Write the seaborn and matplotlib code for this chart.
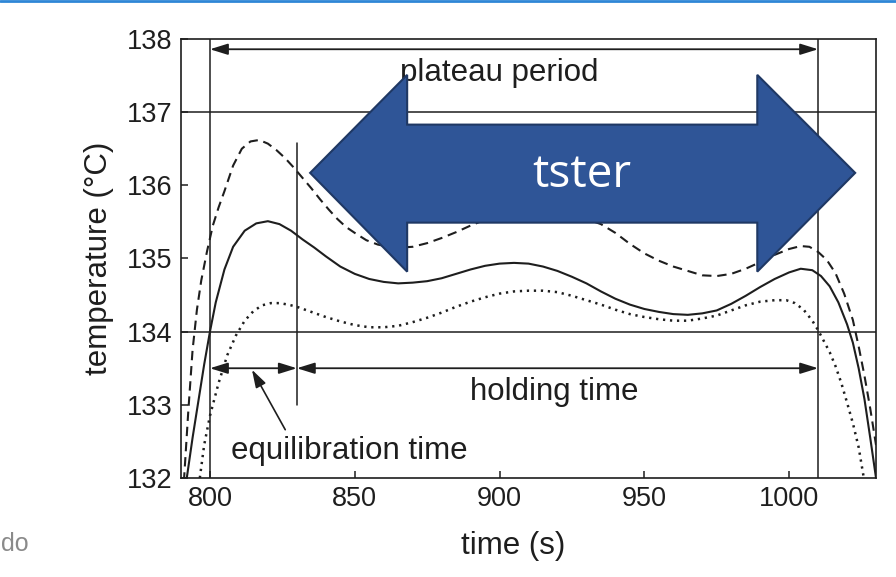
import matplotlib
matplotlib.use("Agg")
import matplotlib.pyplot as plt
from matplotlib.patches import Polygon
from matplotlib.lines import Line2D
import seaborn as sns

# --- temperature curves (time in s, temperature in °C) ---
solid_t = [792, 794, 796, 798, 800, 802, 805, 808, 812, 816, 820, 824, 828, 832, 836,
           840, 845, 850, 855, 860, 865, 870, 875, 880, 885, 890, 895, 900, 905, 910,
           915, 920, 925, 930, 935, 940, 945, 950, 955, 960, 965, 970, 975, 980, 985,
           990, 995, 1000, 1004, 1008, 1011, 1014, 1017, 1020, 1022, 1024, 1026, 1028, 1030]
solid_T = [132.0, 132.55, 133.05, 133.55, 134.0, 134.4, 134.85, 135.16, 135.38, 135.48,
           135.51, 135.47, 135.38, 135.26, 135.15, 135.03, 134.89, 134.79, 134.72, 134.68,
           134.66, 134.67, 134.69, 134.73, 134.79, 134.85, 134.9, 134.93, 134.94, 134.93,
           134.89, 134.83, 134.75, 134.66, 134.55, 134.45, 134.37, 134.31, 134.27, 134.24,
           134.23, 134.25, 134.29, 134.38, 134.49, 134.61, 134.72, 134.81, 134.86, 134.84,
           134.76, 134.62, 134.4, 134.1, 133.85, 133.5, 133.08, 132.55, 132.0]

dashed_t = [791, 792.5, 794, 795.5, 797, 799, 801, 803, 805, 808, 811, 814, 817, 820, 823,
            826, 829, 832, 835, 838, 841, 844, 847, 850, 854, 858, 862, 866, 870, 875,
            880, 885, 890, 895, 900, 905, 910, 915, 920, 925, 930, 935, 940, 945, 950,
            955, 960, 965, 970, 975, 980, 985, 990, 995, 1000, 1004, 1007, 1010, 1013,
            1016, 1019, 1022, 1024, 1026, 1028, 1030]
dashed_T = [131.95, 132.9, 133.75, 134.3, 134.7, 135.1, 135.45, 135.7, 135.92, 136.27,
            136.5, 136.6, 136.62, 136.57, 136.48, 136.37, 136.24, 136.1, 135.96, 135.81,
            135.67, 135.54, 135.43, 135.35, 135.25, 135.19, 135.16, 135.15, 135.16, 135.21,
            135.28, 135.36, 135.45, 135.53, 135.6, 135.64, 135.66, 135.66, 135.63, 135.59,
            135.54, 135.47, 135.35, 135.2, 135.07, 134.97, 134.89, 134.83, 134.77, 134.76,
            134.79, 134.86, 134.95, 135.05, 135.13, 135.17, 135.16, 135.09, 134.98, 134.8,
            134.52, 134.16, 133.8, 133.4, 132.95, 132.45]

dotted_t = [796.5, 798, 800, 803, 806, 809, 812, 815, 818, 821, 824, 827, 830, 835, 840,
            845, 850, 855, 860, 865, 870, 875, 880, 885, 890, 895, 900, 905, 910, 915,
            920, 925, 930, 935, 940, 945, 950, 955, 960, 965, 970, 975, 980, 985, 990,
            995, 999, 1002, 1005, 1008, 1010, 1012, 1014, 1016, 1018, 1020, 1022, 1024, 1026]
dotted_T = [132.0, 132.45, 132.85, 133.3, 133.68, 133.95, 134.15, 134.28, 134.36, 134.39,
            134.39, 134.37, 134.34, 134.27, 134.2, 134.14, 134.09, 134.06, 134.06, 134.08,
            134.13, 134.19, 134.26, 134.34, 134.41, 134.47, 134.52, 134.55, 134.56, 134.56,
            134.54, 134.49, 134.43, 134.37, 134.3, 134.24, 134.2, 134.17, 134.15, 134.15,
            134.18, 134.22, 134.29, 134.36, 134.41, 134.43, 134.43, 134.39, 134.3, 134.15,
            134.02, 133.87, 133.72, 133.53, 133.3, 133.03, 132.75, 132.42, 131.95]

# phase boundaries (s) and reference temperatures (°C)
t_start, t_equil, t_end = 800, 830, 1010
ref_levels = [137, 134]
x_ticks = [800, 850, 900, 950, 1000]
y_ticks = [132, 133, 134, 135, 136, 137, 138]

sns.set_theme(style="white")
plt.rcParams["font.family"] = ["Liberation Sans", "DejaVu Sans"]
ink = "#1e1e1e"
label_size = 22.5

fig = plt.figure(figsize=(8.96, 5.77), dpi=100)
ax = fig.add_axes([0.202, 0.1716, 0.7757, 0.7608])

sns.lineplot(x=solid_t, y=solid_T, ax=ax, color=ink, lw=1.5, sort=False)
sns.lineplot(x=dashed_t, y=dashed_T, ax=ax, color=ink, lw=1.5, sort=False,
             linestyle=(0, (4.5, 2.8)))
sns.lineplot(x=dotted_t, y=dotted_T, ax=ax, color=ink, lw=1.8, sort=False,
             linestyle=(0, (0.9, 1.9)))

ax.set_xlim(790, 1030)
ax.set_ylim(132, 138)
ax.set_xticks(x_ticks)
ax.set_yticks(y_ticks)

# reference grid lines
for lvl in ref_levels:
    ax.axhline(lvl, color=ink, lw=1.1, zorder=1)
for t in (t_start, t_end):
    ax.axvline(t, color=ink, lw=1.1, zorder=1)
ax.plot([t_equil, t_equil], [133.0, 136.58], color=ink, lw=1.1, zorder=1)

for s in ax.spines.values():
    s.set_color(ink)
    s.set_linewidth(1.2)
ax.tick_params(direction="in", length=5, width=1.1, colors=ink, labelsize=19.5,
               pad=6, top=False, right=False, left=True, bottom=True)

ax.set_xlabel("time (s)", fontsize=label_size, color=ink)
ax.xaxis.set_label_coords(0.478, -0.121)
ax.set_ylabel("temperature (°C)", fontsize=label_size, color=ink, labelpad=9)

# period arrows
head = dict(arrowstyle="<|-|>,head_length=0.9,head_width=0.28", color=ink, lw=1.3,
            shrinkA=0, shrinkB=0)
ax.annotate("", xy=(t_start, 137.86), xytext=(t_end, 137.86), arrowprops=head)
ax.annotate("", xy=(t_start, 133.5), xytext=(t_equil, 133.5), arrowprops=head)
ax.annotate("", xy=(t_equil, 133.5), xytext=(t_end, 133.5), arrowprops=head)
ax.annotate("", xy=(814.5, 133.48), xytext=(826.0, 132.66),
            arrowprops=dict(arrowstyle="-|>,head_length=0.9,head_width=0.28",
                            color=ink, lw=1.2, shrinkA=0, shrinkB=0))

ax.text(900, 137.53, "plateau period", ha="center", va="center", fontsize=label_size, color=ink)
ax.text(919, 133.17, "holding time", ha="center", va="center", fontsize=label_size, color=ink)
ax.text(848, 132.37, "equilibration time", ha="center", va="center", fontsize=label_size, color=ink)

# sterilisation-time block arrow
blue_arrow = [(834.6, 136.17), (868.1, 137.51), (868.1, 136.83), (989.0, 136.83),
              (989.0, 137.51), (1022.8, 136.17), (989.0, 134.82), (989.0, 135.49),
              (868.1, 135.49), (868.1, 134.82)]
ax.add_patch(Polygon(blue_arrow, closed=True, facecolor="#2F5597",
                     edgecolor="#1F3864", lw=1.5, zorder=5))
ax.text(928.5, 136.14, "tster", ha="center", va="center", fontsize=33, color="white",
        family=["Open Sans", "DejaVu Sans"], zorder=6)

# slide trim
fig.add_artist(Line2D([0, 1], [0.998, 0.998], transform=fig.transFigure,
                      color="#2E86D6", lw=2))
fig.text(0.001, 0.058, "do", ha="left", va="center", fontsize=18, color="#8a8a8a")

fig.savefig("out.png", dpi=100)
